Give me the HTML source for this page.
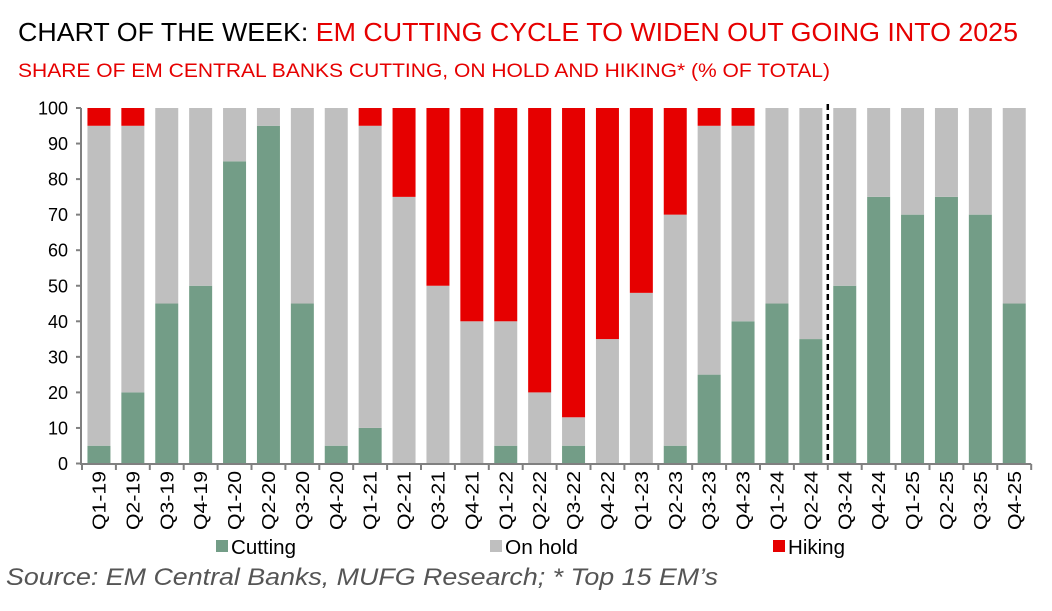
<!DOCTYPE html>
<html><head><meta charset="utf-8"><style>
body{margin:0;background:#fff;}
svg{display:block;font-family:"Liberation Sans",Arial,sans-serif;}
</style></head><body>
<svg width="1052" height="611" viewBox="0 0 1052 611" xmlns="http://www.w3.org/2000/svg">
<text x="18" y="41" font-size="26" fill="#000" textLength="1000" lengthAdjust="spacingAndGlyphs">CHART OF THE WEEK: <tspan fill="#e60000">EM CUTTING CYCLE TO WIDEN OUT GOING INTO 2025</tspan></text>
<text x="18" y="77" font-size="19" fill="#e60000" textLength="812" lengthAdjust="spacingAndGlyphs">SHARE OF EM CENTRAL BANKS CUTTING, ON HOLD AND HIKING* (% OF TOTAL)</text>
<g id="bars"></g>
<g id="axes"></g>
<rect x="216" y="540" width="12" height="12" fill="#739d87"/><text x="231" y="554" font-size="20" textLength="65" lengthAdjust="spacingAndGlyphs">Cutting</text>
<rect x="490" y="540" width="12" height="12" fill="#bfbfbf"/><text x="505" y="554" font-size="20" textLength="73" lengthAdjust="spacingAndGlyphs">On hold</text>
<rect x="773" y="540" width="12" height="12" fill="#e60000"/><text x="788" y="554" font-size="20" textLength="57" lengthAdjust="spacingAndGlyphs">Hiking</text>
<text x="6" y="585" font-size="24" font-style="italic" fill="#555" textLength="712" lengthAdjust="spacingAndGlyphs">Source: EM Central Banks, MUFG Research; * Top 15 EM’s</text>
</svg>
<script>
const d=[[5,90,5],[20,75,5],[45,55,0],[50,50,0],[85,15,0],[95,5,0],[45,55,0],[5,95,0],[10,85,5],[0,75,25],[0,50,50],[0,40,60],[5,35,60],[0,20,80],[5,8,87],[0,35,65],[0,48,52],[5,65,30],[25,70,5],[40,55,5],[45,55,0],[35,65,0],[50,50,0],[75,25,0],[70,30,0],[75,25,0],[70,30,0],[45,55,0]];
const L=["Q1-19","Q2-19","Q3-19","Q4-19","Q1-20","Q2-20","Q3-20","Q4-20","Q1-21","Q2-21","Q3-21","Q4-21","Q1-22","Q2-22","Q3-22","Q4-22","Q1-23","Q2-23","Q3-23","Q4-23","Q1-24","Q2-24","Q3-24","Q4-24","Q1-25","Q2-25","Q3-25","Q4-25"];
const x0=82,w=33.9,y0=463.5,k=3.555,bw=23;
const C=["#739d87","#bfbfbf","#e60000"];
let s="";
d.forEach((r,i)=>{let cx=x0+w*(i+0.5),b=y0;r.forEach((v,j)=>{if(v>0){s+=`<rect x="${cx-bw/2}" y="${b-v*k}" width="${bw}" height="${v*k}" fill="${C[j]}"/>`;b-=v*k;}});
s+=`<text transform="translate(${cx+6.5},${471}) rotate(-90)" text-anchor="end" font-size="18" textLength="59" lengthAdjust="spacingAndGlyphs">${L[i]}</text>`;});
document.getElementById("bars").innerHTML=s;
let a=`<line x1="81" y1="108" x2="81" y2="464.5" stroke="#808080" stroke-width="2"/><line x1="80" y1="464" x2="${x0+28*w}" y2="464" stroke="#808080" stroke-width="2"/>`;
for(let v=0;v<=100;v+=10){let y=y0-v*k;a+=`<line x1="76" y1="${y}" x2="81" y2="${y}" stroke="#808080" stroke-width="2"/><text x="68" y="${y+6.5}" text-anchor="end" font-size="18">${v}</text>`;}
for(let i=0;i<=28;i++){let x=x0+w*i;a+=`<line x1="${x}" y1="464" x2="${x}" y2="470" stroke="#808080" stroke-width="2"/>`;}
let dx=x0+w*22;a+=`<line x1="${dx}" y1="104" x2="${dx}" y2="464" stroke="#000" stroke-width="2.5" stroke-dasharray="6,4"/>`;
document.getElementById("axes").innerHTML=a;
</script>
</body></html>
